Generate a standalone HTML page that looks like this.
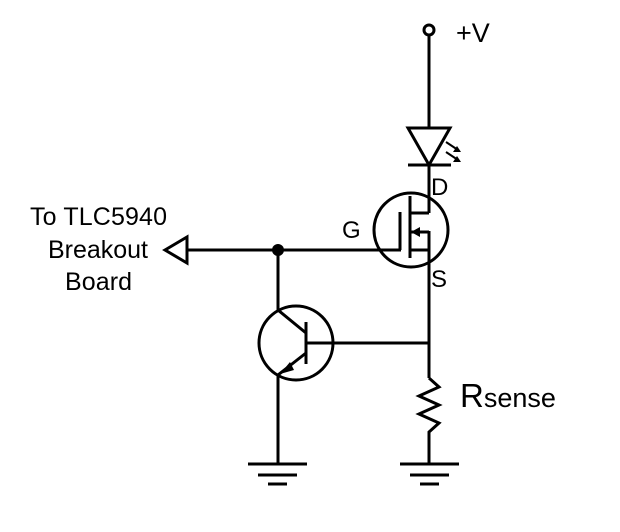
<!DOCTYPE html>
<html><head><style>body{margin:0;background:#fff}</style></head><body>
<svg width="620" height="527" viewBox="0 0 620 527" xmlns="http://www.w3.org/2000/svg" font-family="Liberation Sans, sans-serif" fill="none" stroke="#000" stroke-width="3">
<rect width="620" height="527" fill="#fff" stroke="none"/>
<circle cx="429" cy="30" r="5"/>
<line x1="429" y1="35" x2="429" y2="128"/>
<polygon points="408,128 450,128 429,165"/>
<line x1="408" y1="165" x2="451" y2="165"/>
<line x1="429" y1="165" x2="429" y2="213"/>
<g stroke-width="2"><line x1="446" y1="142" x2="458" y2="150"/><line x1="446" y1="152" x2="458" y2="160"/></g>
<g fill="#000" stroke="none"><polygon points="461,152 453,152 457,146"/><polygon points="461,162 453,162 457,156"/></g>
<circle cx="411" cy="230" r="37"/>
<line x1="429" y1="213" x2="410" y2="213"/>
<line x1="410" y1="196" x2="410" y2="258"/>
<line x1="400" y1="212" x2="400" y2="250"/>
<line x1="187" y1="250" x2="401" y2="250"/>
<line x1="410" y1="232" x2="429" y2="232"/>
<polygon points="411,232 420,227 420,237" fill="#000" stroke="none"/>
<line x1="410" y1="250" x2="429" y2="250"/>
<line x1="429" y1="231" x2="429" y2="378"/>
<polygon points="165,250 187,237 187,263"/>
<circle cx="278" cy="250" r="6" fill="#000" stroke="none"/>
<circle cx="296" cy="343" r="37"/>
<line x1="306" y1="322" x2="306" y2="364"/>
<line x1="306" y1="343" x2="429" y2="343"/>
<polyline points="278,250 278,310 306,333"/>
<polyline points="306,353 278,375 278,464"/>
<polygon points="280,374 290,362 294,370" fill="#000" stroke="none"/>
<polyline points="429,378 439,387 419,396 439,405 419,414 439,423 429,432 429,464"/>
<line x1="248" y1="464" x2="307" y2="464"/><line x1="258" y1="475" x2="297" y2="475"/><line x1="268" y1="484" x2="287" y2="484"/>
<line x1="400" y1="464" x2="459" y2="464"/><line x1="410" y1="475" x2="449" y2="475"/><line x1="420" y1="484" x2="439" y2="484"/>
<g fill="#000" stroke="none" font-size="24">
<text x="456" y="42" font-size="27">+V</text>
<text x="431" y="195">D</text>
<text x="342" y="238">G</text>
<text x="431" y="287">S</text>
<text x="30" y="225" textLength="137" font-size="25">To TLC5940</text>
<text x="48" y="258" textLength="100" font-size="25">Breakout</text>
<text x="65" y="290" textLength="67" font-size="25">Board</text>
<text x="460" y="407" font-size="27"><tspan font-size="33">R</tspan>sense</text>
</g>
</svg>
</body></html>
